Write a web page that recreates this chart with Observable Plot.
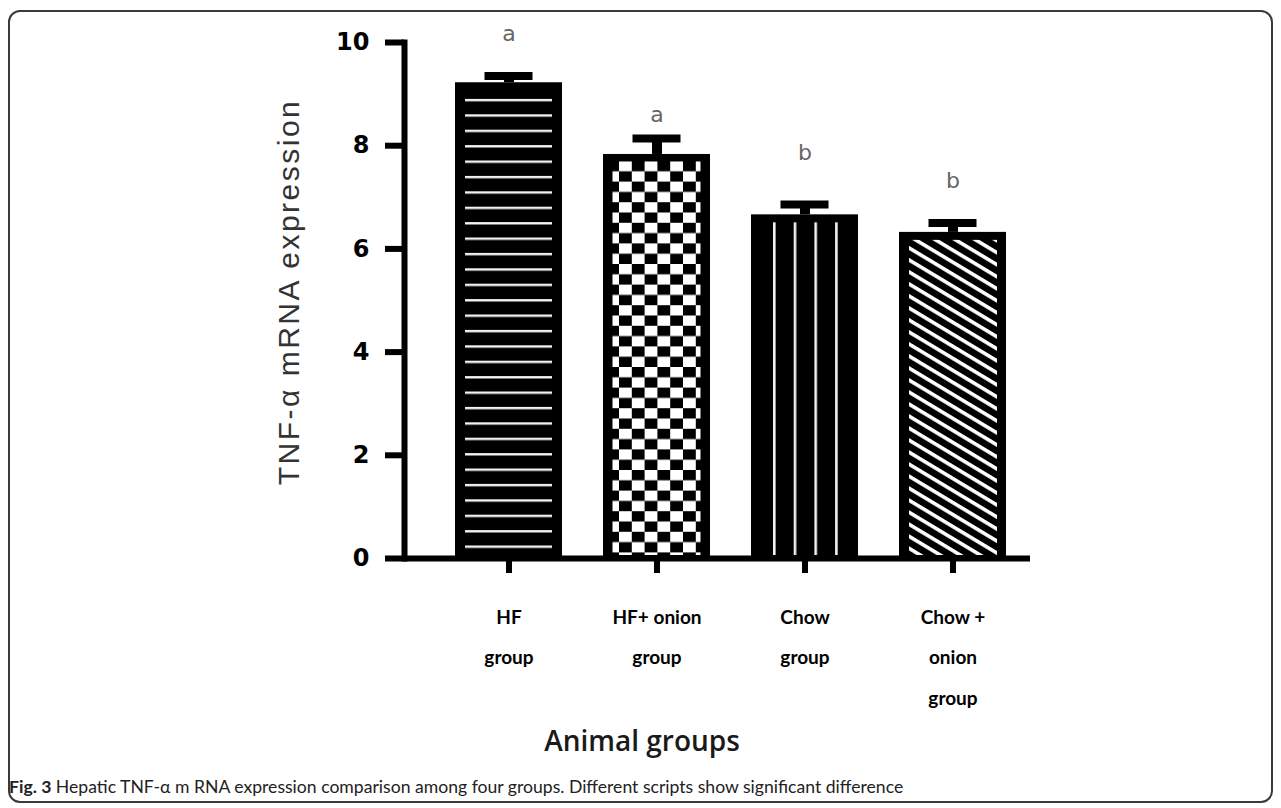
<!DOCTYPE html>
<html>
<head>
<meta charset="utf-8">
<script src="https://cdn.jsdelivr.net/npm/d3@7"></script>
<script src="https://cdn.jsdelivr.net/npm/@observablehq/plot@0.6"></script>
<style>
  html, body { margin: 0; padding: 0; background: #fff; }
  #wrap { position: relative; width: 1281px; height: 808px; overflow: hidden; }
  #box { position: absolute; left: 8px; top: 10px; width: 1265px; height: 793px;
         border: 2px solid #3a3a3a; border-radius: 12px; box-sizing: border-box; }
  #chart { position: absolute; left: 0; top: 0; }
  #ylab { position: absolute; left: 289px; top: 292px; transform: translate(-50%, -50%) rotate(-90deg);
          font-family: "Liberation Sans", Arial, sans-serif; font-size: 30px; letter-spacing: 2.5px;
          color: #333; white-space: nowrap; }
  #xlab { position: absolute; left: 642px; top: 740px; transform: translate(-50%, -50%);
          font-family: "Open Sans", sans-serif; font-weight: 600; font-size: 28px; color: #1a1a1a; white-space: nowrap; }
  #caption { position: absolute; left: 9px; top: 786px; transform: translateY(-50%);
             font-family: Lato, sans-serif; font-size: 17.6px; color: #222; white-space: nowrap; }
</style>
</head>
<body>
<div id="wrap">
  <div id="box"></div>
  <div id="chart"></div>
  <div id="ylab">TNF-α mRNA expression</div>
  <div id="xlab">Animal groups</div>
  <div id="caption"><b>Fig. 3</b> Hepatic TNF-α m RNA expression comparison among four groups. Different scripts show significant difference</div>
</div>
<script>
// ---- data ----
const groups = ["HF group", "HF+ onion group", "Chow group", "Chow + onion group"];
const groupLabels = ["HF\ngroup", "HF+ onion\ngroup", "Chow\ngroup", "Chow +\nonion\ngroup"];
const means = [9.22, 7.83, 6.66, 6.32];
const sems = [0.13, 0.31, 0.20, 0.18];
const letters = ["a", "a", "b", "b"];
const letterLevels = [10.16, 8.6, 7.85, 7.31];
const yTicks = [0, 2, 4, 6, 8, 10];

// ---- styles (not data) ----
const patternFills = ["url(#pHlines)", "url(#pChecker)", "url(#pVlines)", "url(#pDiag)"];

const rows = groups.map((g, i) => ({
  group: g, label: groupLabels[i], mean: means[i], top: means[i] + sems[i],
  letter: letters[i], letterY: letterLevels[i], fill: patternFills[i]
}));
const labelOf = new Map(rows.map(d => [d.group, d.label]));

const W = 6;
const plot = Plot.plot({
  width: 1281, height: 725,
  marginTop: 42, marginBottom: 167, marginLeft: 404, marginRight: 251,
  style: { fontFamily: "DejaVu Sans, sans-serif", background: "transparent", color: "#000" },
  x: { type: "band", domain: groups, paddingInner: 0.28, paddingOuter: 0.245, align: 0.676, label: null },
  y: { domain: [0, 10], label: null },
  color: { type: "identity" },
  marks: [
    Plot.ruleX(rows, { x: "group", y1: "mean", y2: "top", stroke: "#000", strokeWidth: 10 }),
    Plot.tickY(rows, { x: "group", y: "top", stroke: "#000", strokeWidth: 8, insetLeft: 29.5, insetRight: 29.5 }),
    Plot.barY(rows, { x: "group", y: "mean", fill: "#000" }),
    Plot.barY(rows.filter((d, i) => i === 0), { x: "group", y: "mean", fill: "fill", insetLeft: 10, insetRight: 10, insetTop: 8, insetBottom: 8 }),
    Plot.barY(rows.filter((d, i) => i === 1), { x: "group", y: "mean", fill: "fill", insetLeft: 9.5, insetRight: 9.5, insetTop: 7.5, insetBottom: 3 }),
    Plot.barY(rows.filter((d, i) => i === 2), { x: "group", y: "mean", fill: "fill", insetLeft: 10, insetRight: 10, insetTop: 8, insetBottom: 3 }),
    Plot.barY(rows.filter((d, i) => i === 3), { x: "group", y: "mean", fill: "fill", insetLeft: 10, insetRight: 9, insetTop: 8, insetBottom: 3 }),
    Plot.text(rows, { x: "group", y: "letterY", text: "letter", fontSize: 22, fill: "#666", fontFamily: "DejaVu Sans, sans-serif" }),
    Plot.ruleY([0], { stroke: "#000", strokeWidth: W }),
    Plot.frame({ anchor: "left", stroke: "#000", strokeWidth: W }),
    Plot.axisY({ ticks: yTicks, tickSize: 19, tickPadding: 16, strokeWidth: W, fontSize: 24, fontWeight: "bold",
                 fill: "#000", label: null, tickFormat: d => String(d) }),
    Plot.axisX({ tickSize: 15, tickPadding: 21, strokeWidth: W, fontSize: 19, fontWeight: "bold",
                 fontFamily: "Lato, sans-serif", lineHeight: 2.15, fill: "#000", label: null,
                 tickFormat: g => labelOf.get(g) })
  ]
});

// SVG pattern definitions for the bar fills
const svg = d3.select(plot);
const defs = svg.insert("defs", ":first-child");
// horizontal white lines on black
const p1 = defs.append("pattern").attr("id", "pHlines").attr("patternUnits", "userSpaceOnUse")
  .attr("x", 0).attr("y", 6.5).attr("width", 20).attr("height", 15.4);
p1.append("rect").attr("width", 20).attr("height", 15.4).attr("fill", "#000");
p1.append("rect").attr("y", 0).attr("width", 20).attr("height", 2.4).attr("fill", "#f2f2f2");
// checkerboard
const p2 = defs.append("pattern").attr("id", "pChecker").attr("patternUnits", "userSpaceOnUse")
  .attr("x", 619).attr("y", 161).attr("width", 25.6).attr("height", 20.6);
p2.append("rect").attr("width", 25.6).attr("height", 20.6).attr("fill", "#000");
p2.append("rect").attr("x", 0).attr("y", 0).attr("width", 12.8).attr("height", 10.3).attr("fill", "#fff");
p2.append("rect").attr("x", 12.8).attr("y", 10.3).attr("width", 12.8).attr("height", 10.3).attr("fill", "#fff");
// vertical white lines
const p3 = defs.append("pattern").attr("id", "pVlines").attr("patternUnits", "userSpaceOnUse")
  .attr("x", 773).attr("y", 0).attr("width", 20.7).attr("height", 20);
p3.append("rect").attr("width", 20.7).attr("height", 20).attr("fill", "#000");
p3.append("rect").attr("x", 0).attr("width", 2.6).attr("height", 20).attr("fill", "#f2f2f2");
// diagonal stripes
const p4 = defs.append("pattern").attr("id", "pDiag").attr("patternUnits", "userSpaceOnUse")
  .attr("width", 20).attr("height", 10.3).attr("patternTransform", "rotate(31)");
p4.append("rect").attr("width", 20).attr("height", 10.3).attr("fill", "#000");
p4.append("rect").attr("y", 0).attr("width", 20).attr("height", 3.6).attr("fill", "#fff");

document.getElementById("chart").appendChild(plot);
</script>
</body>
</html>
